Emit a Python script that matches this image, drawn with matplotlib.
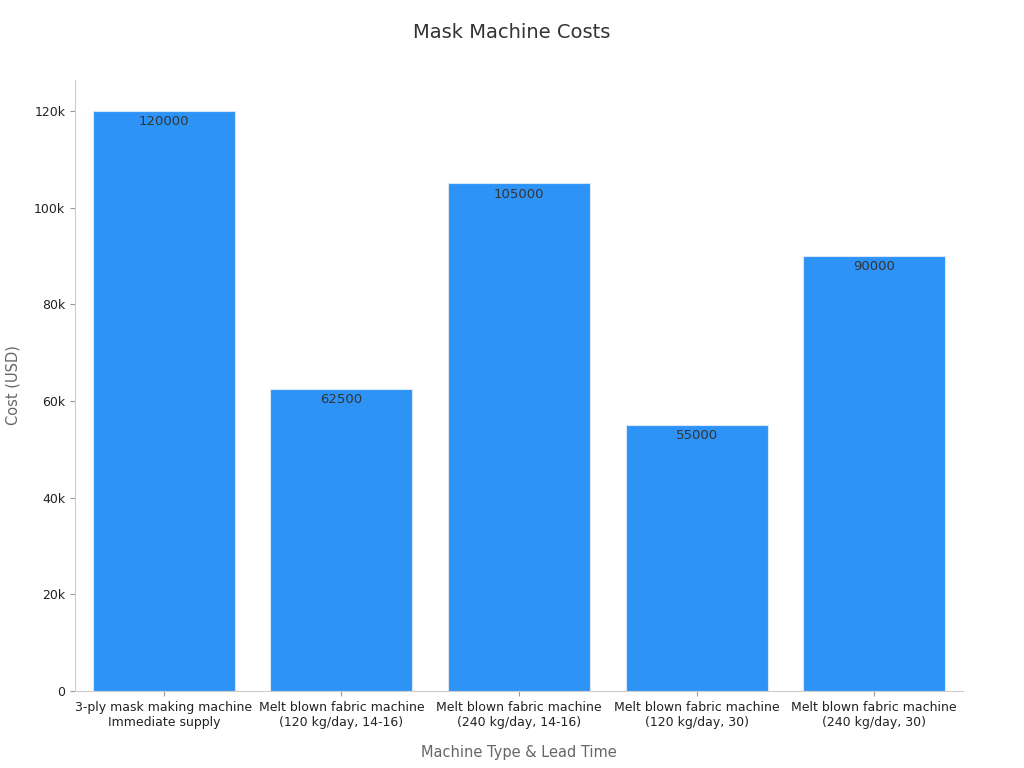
import matplotlib
matplotlib.use("Agg")
import matplotlib.pyplot as plt
from matplotlib.ticker import FuncFormatter

categories = ["3-ply mask making machine\nImmediate supply",
              "Melt blown fabric machine\n(120 kg/day, 14-16)",
              "Melt blown fabric machine\n(240 kg/day, 14-16)",
              "Melt blown fabric machine\n(120 kg/day, 30)",
              "Melt blown fabric machine\n(240 kg/day, 30)"]
costs = [120000, 62500, 105000, 55000, 90000]

fig = plt.figure(figsize=(10.24, 7.68), dpi=100)
ax = fig.add_axes([75/1024, 1-691/768, 888/1024, 611/768])
x = range(len(categories))
bars = ax.bar(x, costs, width=0.8, color="#2E93F7", edgecolor="#d8e6f5", linewidth=0.8)
for xi, v in zip(x, costs):
    ax.text(xi, v - 900, f"{v}", ha="center", va="top", fontsize=9.5, color="#333333")
ax.set_xlim(-0.5, 4.5)
ax.set_ylim(0, 126400)
ax.set_yticks(range(0, 120001, 20000))
ax.yaxis.set_major_formatter(FuncFormatter(lambda v, p: "0" if v == 0 else f"{int(v/1000)}k"))
ax.set_xticks(list(x))
ax.set_xticklabels(categories, fontsize=9, color="#222222")
ax.tick_params(axis="y", labelsize=9, colors="#222222")
ax.tick_params(color="#999999")
for s in ["top", "right"]:
    ax.spines[s].set_visible(False)
for s in ["left", "bottom"]:
    ax.spines[s].set_color("#cccccc")
ax.set_xlabel("Machine Type & Lead Time", fontsize=10.5, color="#666666", labelpad=12)
ax.set_ylabel("Cost (USD)", fontsize=10.5, color="#666666", labelpad=10)
fig.text(0.5, 1-33/768, "Mask Machine Costs", ha="center", va="center", fontsize=14, color="#333333")
fig.savefig("out.png", dpi=100)
